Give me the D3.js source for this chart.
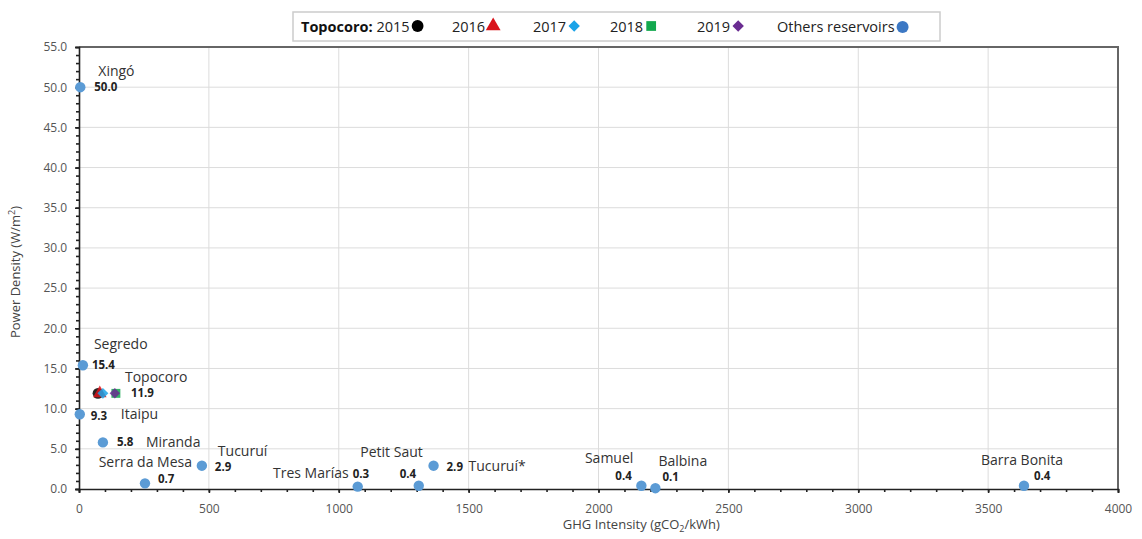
<!DOCTYPE html>
<html>
<head>
<meta charset="utf-8" />
<title>Power density vs GHG intensity</title>
<script src="https://cdn.jsdelivr.net/npm/d3@7"></script>
<style>
  body { margin: 0; background: #fff; overflow: hidden; }
  text { font-family: "Open Sans", Lato, sans-serif; }
</style>
</head>
<body>
<div id="chart"></div>
<script>
// reservoirs: name, GHG intensity (gCO2/kWh), power density (W/m2)
var names = ["Xingó", "Segredo", "Itaipu", "Miranda", "Serra da Mesa", "Tucuruí", "Tres Marías",
             "Petit Saut", "Tucuruí*", "Samuel", "Balbina", "Barra Bonita"];
var ghg = [5, 15, 3, 92, 254, 473, 1073, 1308, 1365, 2165, 2219, 3638];
var density = [50.0, 15.4, 9.3, 5.8, 0.7, 2.9, 0.3, 0.4, 2.9, 0.4, 0.1, 0.4];

// Topocoro by year
var topoYears = ["2015", "2016", "2017", "2018", "2019"];
var topoGhg = [73, 80, 92, 142, 138];
var topoDensity = [11.9, 11.9, 11.9, 11.9, 11.9];

var xTicks = [0, 500, 1000, 1500, 2000, 2500, 3000, 3500, 4000];
var yTicks = [0, 5, 10, 15, 20, 25, 30, 35, 40, 45, 50, 55];

// label placement (px offsets from point): name dx,dy,anchor ; value dx,dy
var nameOff = [[18,-16,"start"],[11,-21,"start"],[41,0,"start"],[43,0,"start"],[47,-21,"end"],[16,-15,"start"],
               [-9,-13,"end"],[4,-34,"end"],[35,0,"start"],[-8,-28,"end"],[3,-27,"start"],[39,-26,"end"]];
var valOff = [[14,0],[9,0],[11,2],[14,0],[13,-4],[13,1],[-5,-13],[-19,-12],[13,1],[-26,-10],[7,-11],[10,-10]];

var W = 1142, H = 539;
var m = {left: 79, right: 24, top: 47, bottom: 50};

var svg = d3.select("#chart").append("svg").attr("width", W).attr("height", H);

var x = d3.scaleLinear().domain([0, 4000]).range([m.left, W - m.right]);
var y = d3.scaleLinear().domain([0, 55]).range([H - m.bottom, m.top]);

// symbol helpers: diamond drawn as a rotated square
function sym(k, size) {
  var t = [d3.symbolCircle, d3.symbolTriangle, d3.symbolSquare, d3.symbolSquare, d3.symbolSquare][k];
  return d3.symbol(t, size)();
}
function rot(k) { return (k === 2 || k === 4) ? " rotate(45)" : ""; }

// grid
svg.append("g").selectAll("line").data(xTicks.slice(1, -1)).join("line")
  .attr("x1", d => x(d)).attr("x2", d => x(d)).attr("y1", y(0)).attr("y2", y(55))
  .attr("stroke", "#dcdcdc").attr("stroke-width", 1);
svg.append("g").selectAll("line").data(yTicks.slice(1, -1)).join("line")
  .attr("x1", x(0)).attr("x2", x(4000)).attr("y1", d => y(d)).attr("y2", d => y(d))
  .attr("stroke", "#dcdcdc").attr("stroke-width", 1);

// top + right frame
svg.append("path")
  .attr("d", "M" + x(0) + "," + y(55) + "H" + x(4000) + "V" + y(0))
  .attr("fill", "none").attr("stroke", "#666").attr("stroke-width", 2);

// axes
var xAxis = svg.append("g").attr("transform", "translate(0," + y(0) + ")")
  .call(d3.axisBottom(x).tickValues(xTicks).tickFormat(d3.format("d")).tickSize(4));
svg.append("g").attr("transform", "translate(0," + y(0) + ")")
  .call(d3.axisBottom(x).tickValues(d3.range(0, 4001, 100)).tickFormat("").tickSize(3))
  .call(g => g.select(".domain").remove());
var yAxis = svg.append("g").attr("transform", "translate(" + x(0) + ",0)")
  .call(d3.axisLeft(y).tickValues(yTicks).tickFormat(d3.format(".1f")).tickSize(4));
svg.append("g").attr("transform", "translate(" + x(0) + ",0)")
  .call(d3.axisLeft(y).tickValues(d3.range(0, 56, 1)).tickFormat("").tickSize(3))
  .call(g => g.select(".domain").remove());

[xAxis, yAxis].forEach(function (a) {
  a.select(".domain").attr("stroke", "#222").attr("stroke-width", 1.6);
  a.selectAll("text").attr("fill", "#555").attr("font-size", 12).style("font-family", "'Open Sans', sans-serif");
});
xAxis.selectAll("text").attr("dy", "1.4em");
yAxis.selectAll("text").attr("dx", "-0.4em");
svg.selectAll(".tick line").attr("stroke", "#222").attr("stroke-width", 1.6);

// axis titles
svg.append("text").attr("x", x(2165)).attr("y", 529).attr("text-anchor", "middle")
  .attr("font-size", 13).attr("fill", "#444")
  .html("GHG Intensity (gCO<tspan font-size='9' dy='3'>2</tspan><tspan dy='-3'>/kWh)</tspan>");
svg.append("text").attr("transform", "translate(20," + y(27) + ") rotate(-90)")
  .attr("text-anchor", "middle").attr("font-size", 13).attr("fill", "#444")
  .html("Power Density (W/m<tspan font-size='9' dy='-5'>2</tspan><tspan dy='5'>)</tspan>");

var blue = "#5b9bd5";

// other reservoirs
svg.append("g").selectAll("circle").data(ghg).join("circle")
  .attr("cx", d => x(d)).attr("cy", (d, i) => y(density[i])).attr("r", 5.2)
  .attr("fill", blue);

svg.append("g").selectAll("text").data(names).join("text")
  .attr("x", (d, i) => x(ghg[i]) + nameOff[i][0])
  .attr("y", (d, i) => y(density[i]) + nameOff[i][1])
  .attr("dy", "0.35em").attr("text-anchor", (d, i) => nameOff[i][2])
  .attr("font-size", 14).attr("fill", "#333").text(d => d);

svg.append("g").selectAll("text").data(density).join("text")
  .attr("x", (d, i) => x(ghg[i]) + valOff[i][0])
  .attr("y", (d, i) => y(d) + valOff[i][1])
  .attr("dy", "0.35em").attr("font-size", 11.5).attr("font-weight", "bold").attr("fill", "#222")
  .text(d => d.toFixed(1));

// Topocoro symbols
var topoColor = ["#000000", "#d9141b", "#1aa3e8", "#12a84e", "#6a2c91"];
var topoSize = [90, 80, 60, 80, 55];
var drawOrder = [3, 4, 0, 1, 2];
svg.append("g").selectAll("path").data(drawOrder).join("path")
  .attr("transform", i => "translate(" + x(topoGhg[i]) + "," + y(topoDensity[i]) + ")" + rot(i))
  .attr("d", i => sym(i, topoSize[i]))
  .attr("fill", i => topoColor[i]).attr("opacity", 0.85);
svg.append("text").attr("x", x(topoGhg[0]) + 27).attr("y", y(11.9) - 16).attr("dy", "0.35em")
  .attr("font-size", 14).attr("fill", "#333").text("Topocoro");
svg.append("text").attr("x", x(topoGhg[3]) + 15).attr("y", y(11.9)).attr("dy", "0.35em")
  .attr("font-size", 11.5).attr("font-weight", "bold").attr("fill", "#222").text(topoDensity[0].toFixed(1));

// legend
var lg = svg.append("g");
lg.append("rect").attr("x", 293).attr("y", 12).attr("width", 647).attr("height", 29)
  .attr("fill", "#fff").attr("stroke", "#ccc").attr("stroke-width", 1.5);
var legStarts = [301, 452, 533, 610, 697];
topoYears.forEach(function (yr, k) {
  var t = lg.append("text").attr("x", legStarts[k]).attr("y", 27).attr("dy", "0.35em")
    .attr("font-size", 14.5).attr("fill", "#222");
  if (k === 0) t.append("tspan").attr("font-weight", "bold").attr("fill", "#111").text("Topocoro: ");
  t.append("tspan").text(yr);
  var end = legStarts[k] + t.node().getComputedTextLength();
  lg.append("path")
    .attr("transform", "translate(" + (end + 8) + ",26)" + rot(k))
    .attr("d", sym(k, k === 0 ? 110 : (k === 2 || k === 4 ? 65 : 95)))
    .attr("fill", topoColor[k]);
});
var ot = lg.append("text").attr("x", 777).attr("y", 27).attr("dy", "0.35em").attr("font-size", 14.5)
  .attr("fill", "#222").text("Others reservoirs");
lg.append("circle").attr("cx", 777 + ot.node().getComputedTextLength() + 8).attr("cy", 27).attr("r", 6)
  .attr("fill", "#3c78c4");
</script>
</body>
</html>
